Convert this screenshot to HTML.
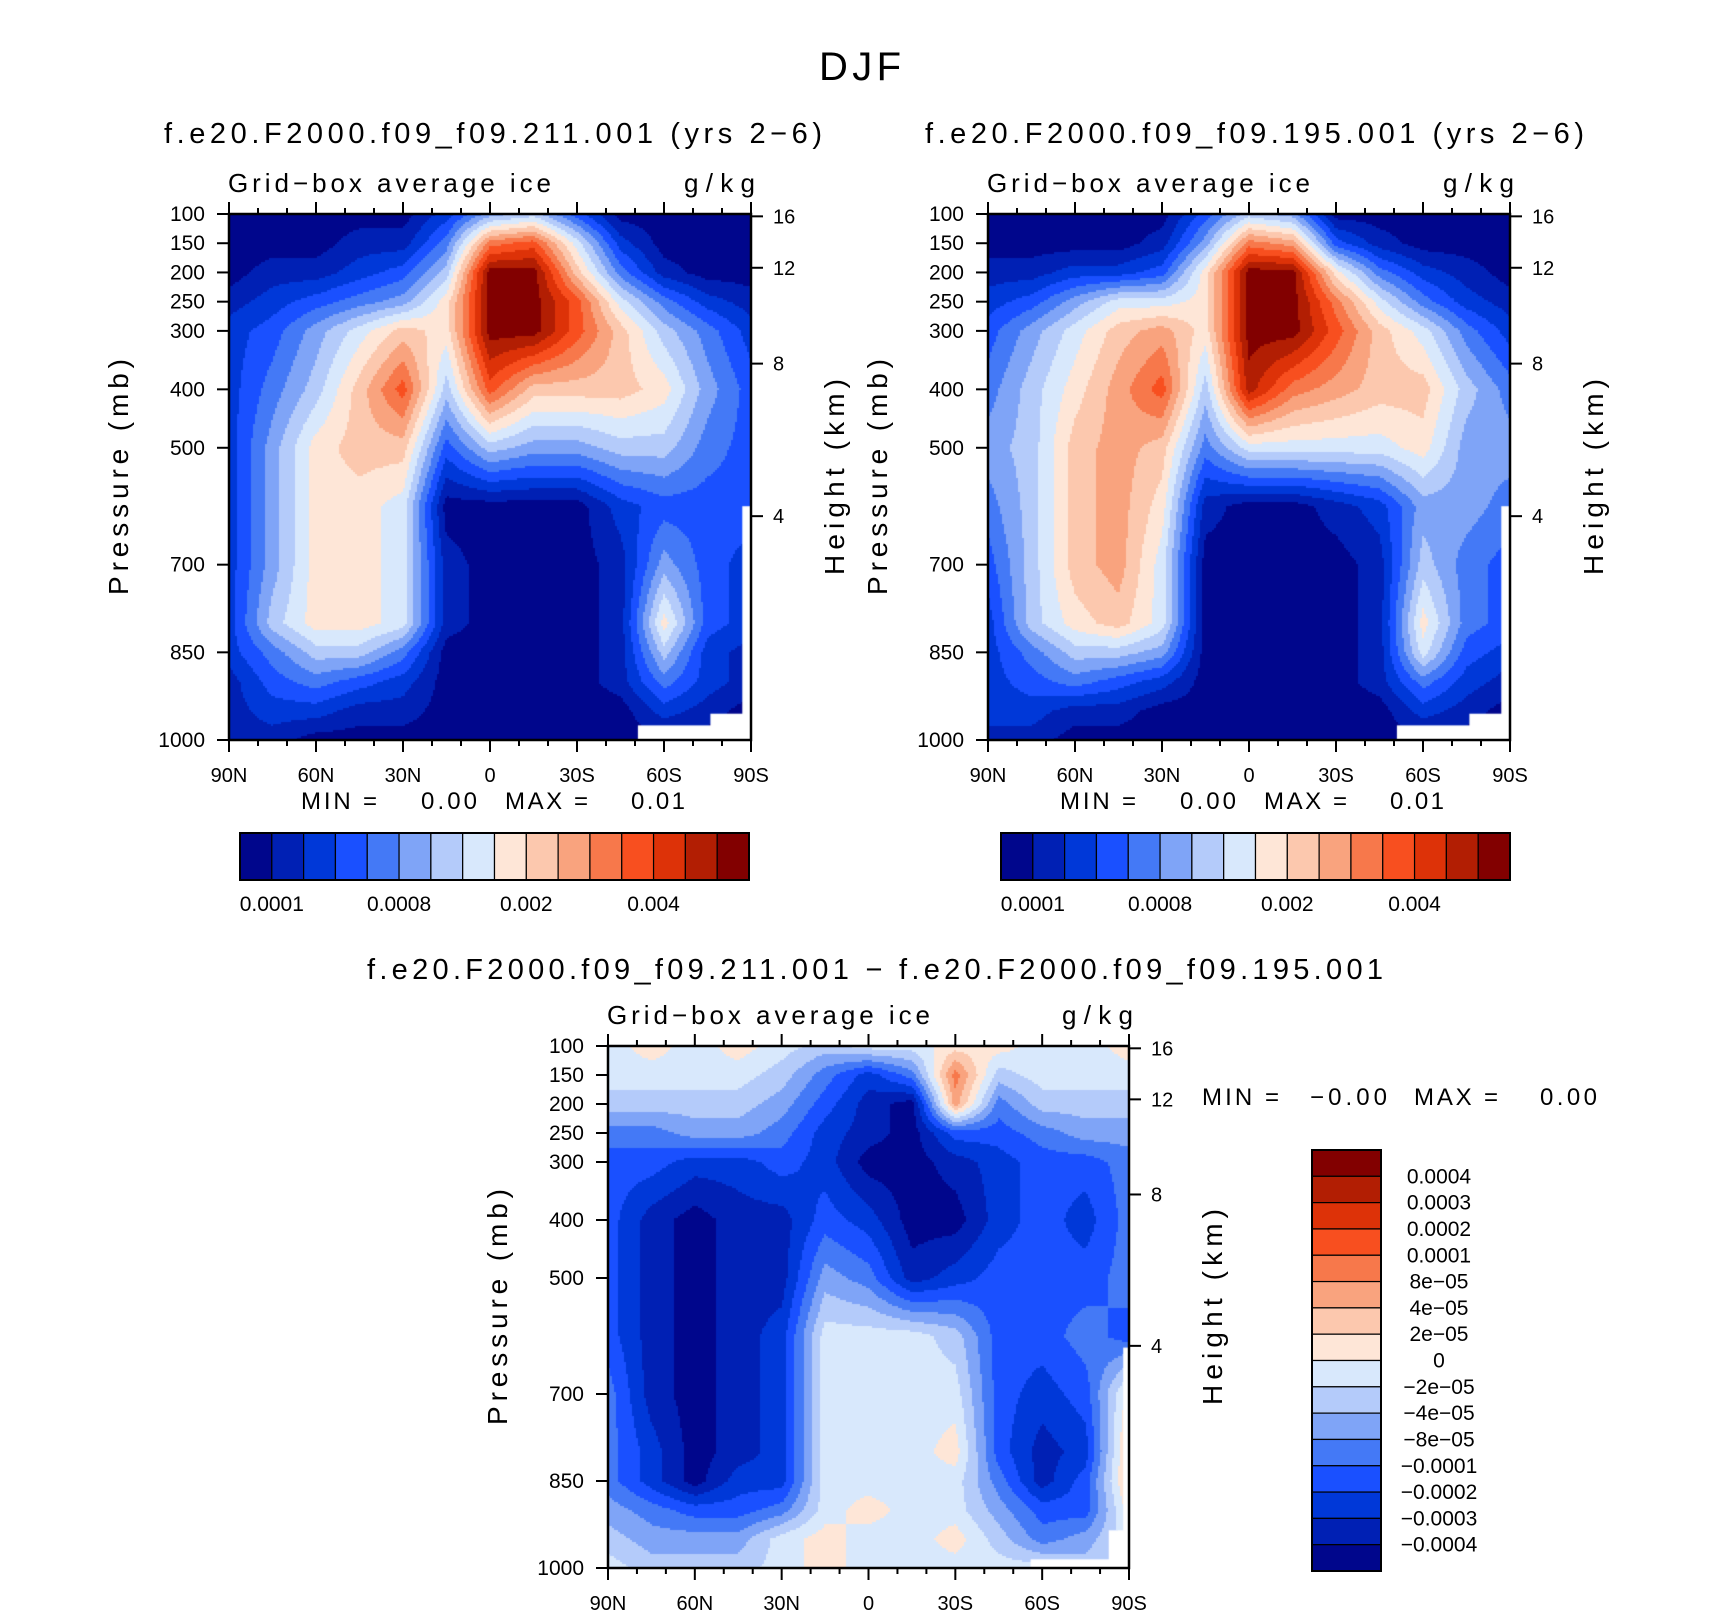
<!DOCTYPE html>
<html><head><meta charset="utf-8"><style>
body{margin:0;background:#fff;}
#root{position:relative;width:1710px;height:1616px;overflow:hidden;background:#fff;font-family:"Liberation Sans",sans-serif;}
canvas{position:absolute;}
svg{position:absolute;left:0;top:0;}
</style></head><body>
<div id="root">
<canvas id="c1"></canvas>
<canvas id="c2"></canvas>
<canvas id="c3"></canvas>
<svg id="svg" width="1710" height="1616"></svg>
</div>
<script>
// ---- data ----
const lats = [90,75,60,45,30,15,0,-15,-30,-45,-60,-75,-90];
const pressures = [100,150,200,250,300,400,500,600,700,800,850,900,950,1000];
// contour class values (0..15) per pressure row, per latitude column
const fieldA = [
[0,0,0,0,0,2,5,6,3,0,0,0,0],
[0,0,0,1,1,4,11,12,7,2,0,0,0],
[0,1,1,2,3,6,15,15,9,4,1,0,0],
[1,2,3,4,5,8,15,15,12,7,4,2,1],
[2,3,5,7,9,8,15,15,12,9,6,4,2],
[2,4,6,9,12,6,12,9,9,9,8,5,3],
[2,5,8,9,9,3,6,5,5,6,6,4,3],
[2,5,8,8,7,0,0,0,0,2,3,3,3],
[2,5,8,8,7,1,0,0,0,1,5,3,2],
[2,6,8,8,7,1,0,0,0,1,8,3,2],
[2,4,6,6,4,0,0,0,0,1,6,2,1],
[1,3,4,3,2,0,0,0,0,1,4,2,1],
[1,2,2,1,1,0,0,0,0,0,2,1,0],
[1,1,0,0,0,0,0,0,0,0,0,0,0]];
const fieldB = [
[0,0,0,0,0,3,6,5,0,0,0,0,0],
[0,0,0,0,1,5,11,10,3,1,0,0,0],
[1,1,2,2,3,8,15,15,8,4,2,1,0],
[2,3,5,7,7,8,15,15,11,7,4,2,1],
[3,5,7,9,10,8,15,15,12,9,7,4,2],
[4,6,8,10,12,6,14,11,10,9,9,6,4],
[5,6,9,10,9,4,7,7,7,7,8,5,5],
[4,6,9,10,8,1,0,0,1,2,5,5,4],
[3,6,9,10,7,0,0,0,0,1,6,4,3],
[2,6,8,9,7,0,0,0,0,1,8,4,3],
[2,4,6,6,5,0,0,0,0,1,7,3,2],
[2,3,4,3,2,0,0,0,0,1,4,2,1],
[2,2,1,1,0,0,0,0,0,0,2,1,0],
[1,1,0,0,0,0,0,0,0,0,0,0,0]];
const fieldDiff = [
[7,8,7,8,7,6,7,7,8,8,7,7,8],
[7,7,7,7,6,4,2,4,11,6,7,7,7],
[6,6,6,6,5,3,1,0,10,4,6,6,6],
[4,4,5,5,4,2,1,0,3,3,4,5,5],
[3,3,2,2,3,2,0,0,1,2,3,3,4],
[3,1,0,1,1,3,2,0,0,2,3,2,4],
[3,1,0,1,1,5,4,1,2,3,3,3,4],
[3,1,0,1,2,7,7,7,6,3,3,4,3],
[4,1,0,1,2,7,7,7,7,3,2,3,8],
[4,2,0,1,2,7,7,7,8,3,1,2,9],
[4,2,0,2,2,7,7,7,7,4,1,3,9],
[5,4,3,3,4,7,8,7,7,5,3,3,8],
[6,5,5,5,7,8,7,7,8,6,4,5,7],
[7,6,6,6,7,8,7,7,7,7,7,6,7]];
const pTicks = [100,150,200,250,300,400,500,700,850,1000];
const heightTicks = [4,8,12,16];
const heightTickP = [617,356,192,104];
const latTicks = [90,60,30,0,-30,-60,-90];
const latLabels = ["90N","60N","30N","0","30S","60S","90S"];
const cbLabelsTop = ["0.0001","0.0008","0.002","0.004"];
const cbLabelBounds = [1,5,9,13];
const cbLabelsDiff = ["0.0004","0.0003","0.0002","0.0001","8e\u221205","4e\u221205","2e\u221205","0","\u22122e\u221205","\u22124e\u221205","\u22128e\u221205","\u22120.0001","\u22120.0002","\u22120.0003","\u22120.0004"];
const colors = ["#00068c","#0020b4","#0038d8","#1a50ff","#4479f6","#7fa4f7","#b4cbfa","#d8e8fc","#fee6d7","#fcc8ae","#f9a37e","#f7784b","#f84f1f","#dd3208","#b21e03","#820000"];
// ---- layout ----
const panels = [
 {id:"c1", L:229, R:751, T:214, B:740, f:fieldA, missing:[[-51,-90,975,1000],[-76,-90,955,1000],[-87,-90,600,1000]]},
 {id:"c2", L:988, R:1510, T:214, B:740, f:fieldB, missing:[[-51,-90,975,1000],[-76,-90,955,1000],[-87,-90,600,1000]]},
 {id:"c3", L:608, R:1129, T:1046, B:1568, f:fieldDiff, missing:[[-56,-90,985,1000],[-83,-90,935,1000],[-88,-90,620,1000]]}
];
function xScale(P,lat){return P.L+(90-lat)/180*(P.R-P.L);}
function yScale(P,p){return P.T+(p-100)/900*(P.B-P.T);}
function sample(f,lat,p){
 let cx=(90-lat)/15; let i=Math.min(11,Math.floor(cx)); let tx=cx-i;
 let j=0; while(j<pressures.length-2 && p>pressures[j+1]) j++;
 let ty=(p-pressures[j])/(pressures[j+1]-pressures[j]);
 const a=f[j][i],b=f[j][i+1],c=f[j+1][i],d=f[j+1][i+1];
 return (a*(1-tx)+b*tx)*(1-ty)+(c*(1-tx)+d*tx)*ty;
}
panels.forEach(P=>{
 const cv=document.getElementById(P.id);
 const w=P.R-P.L,h=P.B-P.T;
 cv.width=w;cv.height=h;cv.style.left=P.L+"px";cv.style.top=P.T+"px";
 const ctx=cv.getContext("2d");
 const s=2;
 for(let y=0;y<h;y+=s){for(let x=0;x<w;x+=s){
  const lat=90-(x+s/2)/w*180, p=100+(y+s/2)/h*900;
  let v=Math.round(sample(P.f,lat,p)); v=Math.max(0,Math.min(15,v));
  ctx.fillStyle=colors[v];ctx.fillRect(x,y,s,s);
 }}
 ctx.fillStyle="#fff";
 P.missing.forEach(m=>{const x0=xScale(P,m[0])-P.L,x1=xScale(P,m[1])-P.L,y0=yScale(P,m[2])-P.T,y1=yScale(P,m[3])-P.T;ctx.fillRect(x0,y0,x1-x0,y1-y0);});
});
// ---- svg overlay ----
const svg=document.getElementById("svg");const NS="http://www.w3.org/2000/svg";
function el(tag,attrs,txt){const e=document.createElementNS(NS,tag);for(const k in attrs)e.setAttribute(k,attrs[k]);if(txt!==undefined)e.textContent=txt;svg.appendChild(e);return e;}
function line(x1,y1,x2,y2,w){return el("line",{x1,y1,x2,y2,stroke:"#000","stroke-width":w||2});}
function text(x,y,t,size,anchor,extra){const a=Object.assign({x,y,"font-size":size,"text-anchor":anchor||"start",fill:"#000","font-family":"Liberation Sans, sans-serif"},extra||{});return el("text",a,t);}

let e;
e=text(860,80,"DJF",40,"middle",{textLength:82});



const titles=[["f.e20.F2000.f09_f09.211.001 (yrs 2\u22126)",164,822,143],["f.e20.F2000.f09_f09.195.001 (yrs 2\u22126)",925,1584,143],["f.e20.F2000.f09_f09.211.001 \u2212 f.e20.F2000.f09_f09.195.001",367,1383,979]];
titles.forEach((t,k)=>{e=text(t[1],t[3],t[0],29,"start",{textLength:t[2]-t[1],lengthAdjust:"spacing"});

});

panels.forEach((P,k)=>{
 e=el("rect",{x:P.L,y:P.T,width:P.R-P.L,height:P.B-P.T,fill:"none",stroke:"#000","stroke-width":2.5});
 
 
 for(let lat=90;lat>=-90;lat-=10){const x=xScale(P,lat);const major=(lat%30===0);const len=major?12:6;line(x,P.B,x,P.B+len,2);line(x,P.T,x,P.T-len,2);}
 latTicks.forEach((lat,i)=>{e=text(xScale(P,lat),P.B+42,latLabels[i],20,"middle");
 
 });
 pTicks.forEach(p=>{const y=yScale(P,p);line(P.L-12,y,P.L,y,2);e=text(P.L-24,y+7,String(p),21,"end");
 
 });
 heightTicks.forEach((z,i)=>{const y=yScale(P,heightTickP[i]);line(P.R,y,P.R+12,y,2);e=text(P.R+22,y+7,String(z),20,"start");
 
 });
 e=text(P.L-1,P.T-22,"Grid\u2212box average ice",26,"start",{textLength:323,lengthAdjust:"spacing"});
 
 
 e=text(P.R+4,P.T-22,"g/kg",26,"end",{textLength:71,lengthAdjust:"spacing"});
 
 
 const cy=(P.T+P.B)/2;
 e=text(0,0,"Pressure (mb)",28,"middle",{transform:`translate(${P.L-101},${cy}) rotate(-90)`,textLength:236});
 
 
 e=text(0,0,"Height (km)",28,"middle",{transform:`translate(${P.R+93},${cy}) rotate(-90)`,textLength:196});
 
 
});

[[229,"0.01"],[988,"0.01"]].forEach((m,k)=>{const o=m[0]-229;
 e=text(301+o,809,"MIN =",24,"start",{textLength:76});
 e=text(421+o,809,"0.00",24,"start",{textLength:56});
 e=text(505+o,809,"MAX =",24,"start",{textLength:83});
 e=text(631+o,809,m[1],24,"start",{textLength:54});
});
[240,1001].forEach((x0,k)=>{const w=(749-240)/16;
 for(let i=0;i<16;i++){e=el("rect",{x:x0+i*w,y:833,width:w,height:47,fill:colors[i],stroke:"#000","stroke-width":1.2});
 
 }
 e=el("rect",{x:x0,y:833,width:w*16,height:47,fill:"none",stroke:"#000","stroke-width":2});
 cbLabelsTop.forEach((t,i)=>{e=text(x0+cbLabelBounds[i]*w,911,t,21,"middle");
 
 });
});
e=text(1202,1105,"MIN =",24,"start",{textLength:77});
e=text(1310,1105,"\u22120.00",24,"start",{textLength:77});
e=text(1414,1105,"MAX =",24,"start",{textLength:84});
e=text(1540,1105,"0.00",24,"start",{textLength:57});
{const x0=1312,y0=1150,h=(1571-1150)/16;
 for(let i=0;i<16;i++){e=el("rect",{x:x0,y:y0+i*h,width:69,height:h,fill:colors[15-i],stroke:"#000","stroke-width":1.2});
 
 }
 el("rect",{x:x0,y:y0,width:69,height:h*16,fill:"none",stroke:"#000","stroke-width":2});
 cbLabelsDiff.forEach((t,i)=>{e=text(1439,y0+(i+1)*h+7,t,21,"middle");
 
 });
}
</script>
</body></html>
